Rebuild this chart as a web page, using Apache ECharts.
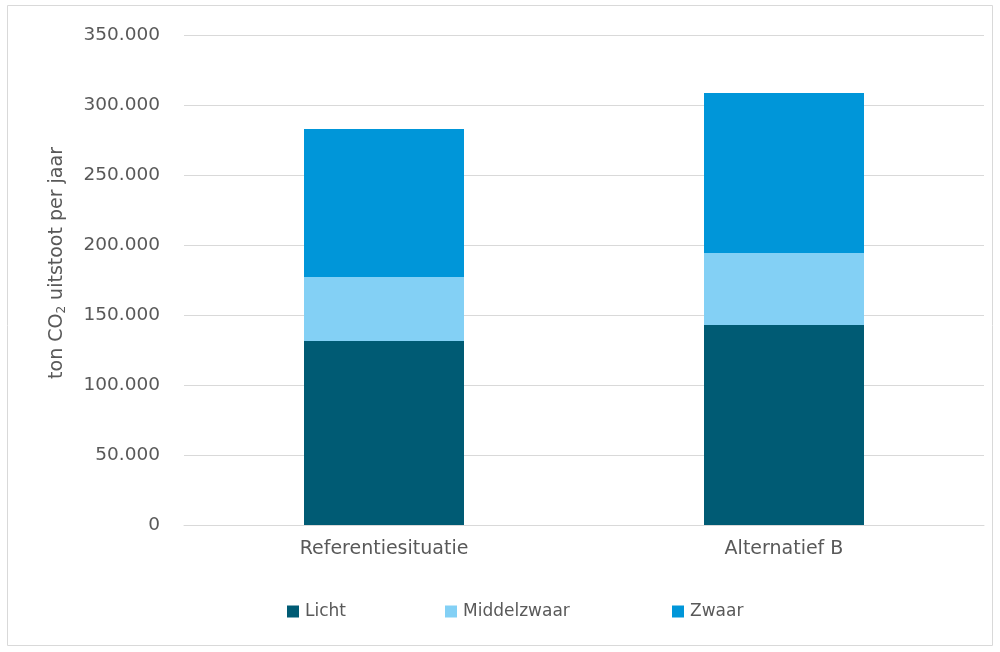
<!DOCTYPE html>
<html><head><meta charset="utf-8">
<script src="https://cdn.jsdelivr.net/npm/echarts@6/dist/echarts.min.js"></script>
<style>html,body{margin:0;padding:0;background:#fff}#c{width:1000px;height:652px}</style>
</head><body><div id="c"></div>
<script>
const categories = ['Referentiesituatie', 'Alternatief B'];
const licht = [131400, 142900];
const middelzwaar = [45700, 51400];
const zwaar = [105700, 114300];
const seriesNames = ['Licht', 'Middelzwaar', 'Zwaar'];
const colors = ['#005B74', '#83D0F5', '#0096D9'];
const FONT = 'DejaVu Sans';
const TXT = '#595959';

const chart = echarts.init(document.getElementById('c'), null, {renderer: 'canvas'});
const fmt = v => v === 0 ? '0' : String(v).replace(/\B(?=(\d{3})+(?!\d))/g, '.');
const legendPos = [282, 440, 667];
chart.setOption({
  animation: false,
  textStyle: {fontFamily: FONT, color: TXT},
  graphic: [{type: 'rect', shape: {x: 7.5, y: 5.5, width: 985, height: 640}, style: {fill: 'none', stroke: '#D9D9D9', lineWidth: 1}, silent: true}],
  grid: {left: 184, right: 16, top: 35, bottom: 127, containLabel: false},
  legend: seriesNames.map((n, i) => ({
    data: [n], left: legendPos[i], top: 598, itemWidth: 12, itemHeight: 12, itemGap: 0,
    icon: 'rect', textStyle: {fontFamily: FONT, fontSize: 17, color: TXT, padding: [0, 0, 0, 1]}
  })),
  xAxis: {
    type: 'category', data: categories,
    axisLine: {lineStyle: {color: '#D9D9D9', width: 1}}, axisTick: {show: false},
    axisLabel: {fontFamily: FONT, fontSize: 19, color: TXT, margin: 15}
  },
  yAxis: {
    type: 'value', min: 0, max: 350000, interval: 50000,
    name: 'ton CO{sub|2} uitstoot per jaar', nameLocation: 'middle', nameGap: 116, nameRotate: 90,
    nameTextStyle: {fontFamily: FONT, fontSize: 19, color: TXT, padding: [0, 0, 0, 34], rich: {sub: {fontFamily: FONT, fontSize: 12, color: TXT, verticalAlign: 'bottom', padding: [9, 0, 0, 0]}}},
    axisLine: {show: false}, axisTick: {show: false},
    splitLine: {lineStyle: {color: '#D9D9D9', width: 1}},
    axisLabel: {fontFamily: FONT, fontSize: 18.5, color: TXT, margin: 24, formatter: fmt}
  },
  series: [licht, middelzwaar, zwaar].map((d, i) => ({
    name: seriesNames[i], type: 'bar', stack: 'total', data: d, barWidth: '40%',
    itemStyle: {color: colors[i]}
  }))
});
</script></body></html>
